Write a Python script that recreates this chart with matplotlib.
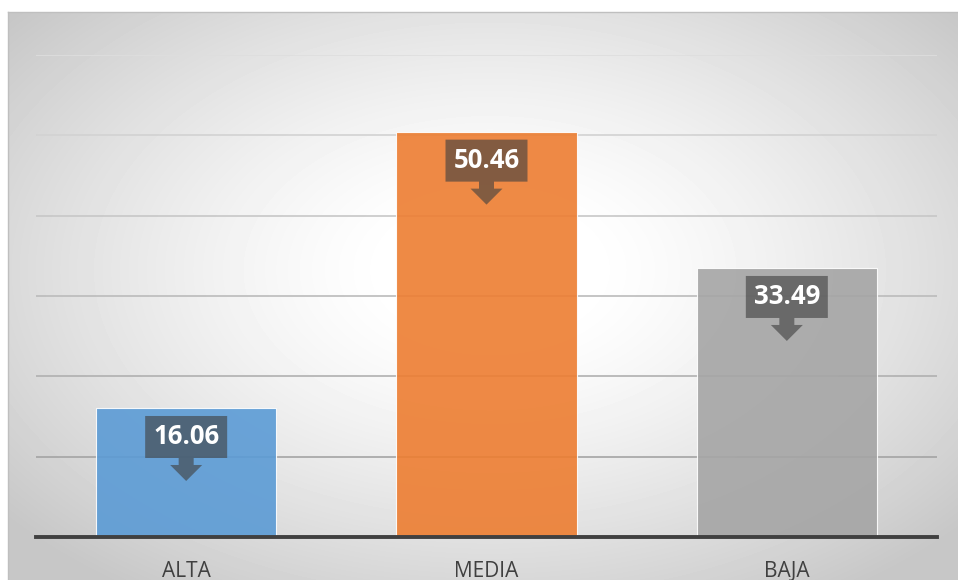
import numpy as np
import matplotlib

matplotlib.use("Agg")
import matplotlib.pyplot as plt
import matplotlib.transforms as mtransforms
from matplotlib.lines import Line2D
from matplotlib.patches import Polygon

categories = ["ALTA", "MEDIA", "BAJA"]
values = [16.06, 50.46, 33.49]
labels = ["16.06", "50.46", "33.49"]
bar_colors = ["#5B9BD5", "#ED7D31", "#A5A5A5"]
grid_ticks = [10, 20, 30, 40, 50, 60]

W, H = 958, 580
fig = plt.figure(figsize=(W / 100, H / 100), dpi=100)
fig.patch.set_facecolor("white")

# radial gradient background of the chart frame (frame starts at x=8, y=12)
bg = fig.add_axes([8 / W, 0, (W - 8) / W, (H - 12) / H])
xs = np.arange(8, W) + 0.5
ys = np.arange(12, H) + 0.5
gx, gy = np.meshgrid(xs, ys)
r = np.sqrt(((gx - 490) / 480) ** 2 + ((gy - 270) / 300) ** 2)
shade = 1 - 0.22 * np.clip((r - 0.2) / 1.1, 0, 1) ** 1.3
bg.imshow(shade, cmap="gray", vmin=0, vmax=1, aspect="auto",
          extent=[8, W, H, 12], interpolation="bilinear")
bg.axis("off")
fig.add_artist(Line2D([8 / W, 1], [1 - 12 / H] * 2, transform=fig.transFigure,
                      color="#bfbfbf", lw=1))
fig.add_artist(Line2D([8 / W] * 2, [0, 1 - 12 / H], transform=fig.transFigure,
                      color="#bfbfbf", lw=1))

ax = fig.add_axes([36 / W, (H - 537) / H, (937 - 36) / W, (537 - 55) / H])
ax.set_facecolor("none")
x = np.arange(len(categories))
ax.set_xlim(-0.5, len(categories) - 0.5)
ax.set_ylim(0, 60)

# gridlines get darker towards the baseline
grid_cols = [str(0.60 + 0.27 * t / max(grid_ticks)) for t in grid_ticks]
ax.hlines(grid_ticks, -0.5, len(categories) - 0.5, colors=grid_cols, lw=1.2, zorder=1)

ax.bar(x, values, width=0.6, color=bar_colors, alpha=0.9,
       edgecolor="white", linewidth=0.8, zorder=2)

for s in ("top", "left", "right"):
    ax.spines[s].set_visible(False)
ax.spines["bottom"].set_color("#404040")
ax.spines["bottom"].set_linewidth(2.8)
ax.spines["bottom"].set_zorder(3)

ax.set_xticks(x)
ax.set_xticklabels(categories, fontfamily="Open Sans", fontsize=15, color="#404040")
ax.tick_params(axis="x", length=0, pad=17)
ax.tick_params(axis="y", left=False, labelleft=False)

# callout labels: box + down arrow, offsets in inches from bar top
shape = np.array([
    (-0.41, -0.08), (0.41, -0.08), (0.41, -0.50), (0.075, -0.50), (0.075, -0.57),
    (0.16, -0.57), (0.0, -0.73), (-0.16, -0.57), (-0.075, -0.57), (-0.075, -0.50),
    (-0.41, -0.50),
])
for xi, v, lab in zip(x, values, labels):
    trans = fig.dpi_scale_trans + mtransforms.ScaledTranslation(xi, v, ax.transData)
    ax.add_patch(Polygon(shape, closed=True, transform=trans, facecolor="#404040",
                         alpha=0.62, edgecolor="none", zorder=4, clip_on=False))
    ax.text(0, -0.29, lab, transform=trans, ha="center", va="center",
            fontfamily="Open Sans", fontweight="bold", fontsize=18.5,
            color="white", zorder=5)

fig.savefig("out.png", dpi=100)
